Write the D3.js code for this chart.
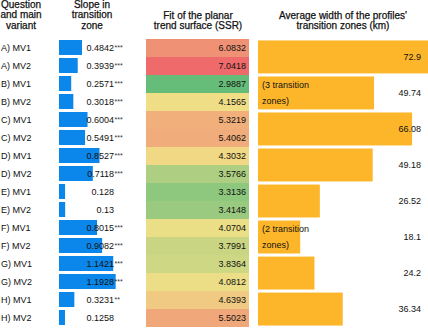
<!DOCTYPE html>
<html>
<head>
<meta charset="utf-8">
<script src="https://cdn.jsdelivr.net/npm/d3@7"></script>
<style>
  body { margin: 0; background: #fff; }
  svg { display: block; font-family: "Liberation Sans", Arial, sans-serif; }
</style>
</head>
<body>
<svg id="chart"></svg>
<script>
// rows: question + main variant
const rowLabels = ["A) MV1", "A) MV2", "B) MV1", "B) MV2", "C) MV1", "C) MV2", "D) MV1", "D) MV2",
  "E) MV1", "E) MV2", "F) MV1", "F) MV2", "G) MV1", "G) MV2", "H) MV1", "H) MV2"];
const slopes = [0.4842, 0.3939, 0.2571, 0.3018, 0.6004, 0.5491, 0.8527, 0.7118,
  0.128, 0.13, 0.8015, 0.9082, 1.1421, 1.1928, 0.3231, 0.1258];
const signif = ["***", "***", "***", "***", "***", "***", "***", "***",
  "", "", "***", "***", "***", "***", "**", ""];
const ssr = [6.0832, 7.0418, 2.9887, 4.1565, 5.3219, 5.4062, 4.3032, 3.5766,
  3.3136, 3.4148, 4.0704, 3.7991, 3.8364, 4.0812, 4.6393, 5.5023];
// one value per question (spans both variants)
const questions = ["A", "B", "C", "D", "E", "F", "G", "H"];
const avgWidth = [72.9, 49.74, 66.08, 49.18, 26.52, 18.1, 24.2, 36.34];
const notes = [null, ["(3 transition", "zones)"], null, null, null, ["(2 transition", "zones)"], null, null];

const width = 428, height = 330;
const tableTop = 39, rowH = 18;

const svg = d3.select("#chart").attr("width", width).attr("height", height);

const y = d3.scaleBand().domain(d3.range(rowLabels.length)).range([tableTop, tableTop + rowH * rowLabels.length]);
const yQ = d3.scaleBand().domain(questions).range([tableTop, tableTop + rowH * rowLabels.length]).paddingInner(0.085).paddingOuter(0.04);

const xSlope = d3.scaleLinear().domain([0, 1.2]).range([59, 116]);
const xWidth = d3.scaleLinear().domain([0, 72.9]).range([258, 428]);

const sorted = ssr.slice().sort(d3.ascending);
const ssrColor = d3.scaleLinear()
  .domain([d3.min(ssr), d3.median(sorted), d3.max(ssr)])
  .range(["#66bd7a", "#f0df87", "#ef6b6b"]);

// headers
const headers = [
  { x: 21, lines: ["Question", "and main", "variant"], y0: 7.5 },
  { x: 92, lines: ["Slope in", "transition", "zone"], y0: 7.5 },
  { x: 198, lines: ["Fit of the planar", "trend surface (SSR)"], y0: 18.5 },
  { x: 343, lines: ["Average width of the profiles'", "transition zones (km)"], y0: 18.5 }
];
headers.forEach(h => {
  const t = svg.append("text")
    .attr("x", h.x)
    .attr("y", h.y0)
    .attr("text-anchor", "middle")
    .style("font-size", "10px")
    .style("fill", "#111")
    .style("stroke", "#111")
    .style("stroke-width", 0.25);
  h.lines.forEach((l, i) => {
    t.append("tspan").attr("x", h.x).attr("dy", i === 0 ? 0 : 10.8).text(l);
  });
});

// row labels
svg.selectAll(".rowlab")
  .data(rowLabels)
  .join("text")
  .attr("class", "rowlab")
  .attr("x", 1)
  .attr("y", (d, i) => y(i) + rowH / 2 + 3.2)
  .style("font-size", "9px")
  .style("fill", "#111")
  .text(d => d);

// slope bars
svg.selectAll(".slope")
  .data(slopes)
  .join("rect")
  .attr("class", "slope")
  .attr("x", xSlope(0))
  .attr("y", (d, i) => y(i) + 1)
  .attr("width", d => xSlope(d) - xSlope(0))
  .attr("height", 15)
  .attr("fill", "#0b86ea");

svg.selectAll(".slopeval")
  .data(slopes)
  .join("text")
  .attr("class", "slopeval")
  .attr("x", 114)
  .attr("y", (d, i) => y(i) + rowH / 2 + 3.2)
  .attr("text-anchor", "end")
  .style("font-size", "9px")
  .style("fill", "#111")
  .text(d => d);

svg.selectAll(".stars")
  .data(signif)
  .join("text")
  .attr("class", "stars")
  .attr("x", 114.5)
  .attr("y", (d, i) => y(i) + rowH / 2 + 1.5)
  .style("font-size", "7px")
  .style("fill", "#333")
  .text(d => d);

// SSR heat cells
svg.selectAll(".ssr")
  .data(ssr)
  .join("rect")
  .attr("class", "ssr")
  .attr("x", 146)
  .attr("y", (d, i) => y(i))
  .attr("width", 103)
  .attr("height", rowH)
  .attr("fill", d => ssrColor(d));

svg.selectAll(".ssrval")
  .data(ssr)
  .join("text")
  .attr("class", "ssrval")
  .attr("x", 246)
  .attr("y", (d, i) => y(i) + rowH / 2 + 3.2)
  .attr("text-anchor", "end")
  .style("font-size", "9px")
  .style("fill", "#111")
  .text(d => d.toFixed(4));

// average width bars
svg.selectAll(".wbar")
  .data(avgWidth)
  .join("rect")
  .attr("class", "wbar")
  .attr("x", xWidth(0))
  .attr("y", (d, i) => yQ(questions[i]))
  .attr("width", d => xWidth(d) - xWidth(0))
  .attr("height", yQ.bandwidth())
  .attr("fill", "#fdb62a");

svg.selectAll(".wval")
  .data(avgWidth)
  .join("text")
  .attr("class", "wval")
  .attr("x", 421)
  .attr("y", (d, i) => yQ(questions[i]) + yQ.bandwidth() / 2 + 3.2)
  .attr("text-anchor", "end")
  .style("font-size", "9px")
  .style("fill", "#111")
  .text(d => d);

notes.forEach((n, i) => {
  if (!n) return;
  const cy = yQ(questions[i]) + yQ.bandwidth() / 2;
  n.forEach((l, j) => {
    svg.append("text")
      .attr("x", 262)
      .attr("y", cy - 8 + j * 16 + 3.2)
      .style("font-size", "9px")
      .style("fill", "#111")
      .text(l);
  });
});
</script>
</body>
</html>
